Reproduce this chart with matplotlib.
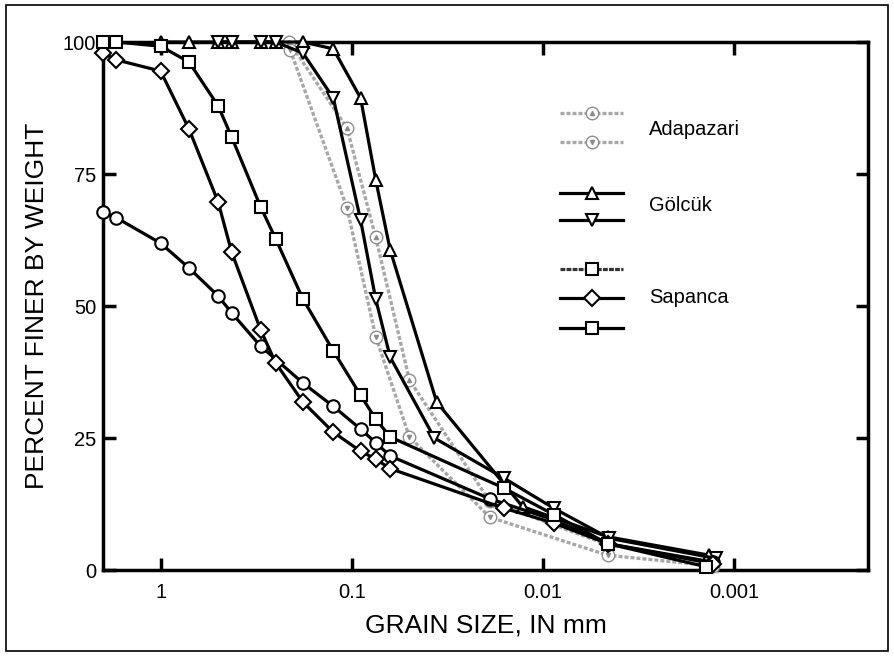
import numpy as np
import matplotlib.pyplot as plt
from matplotlib.patches import Rectangle

plt.rcParams['font.family'] = ['Liberation Sans', 'DejaVu Sans']

# Adapazari (grey circles)
ada1_x = [0.212, 0.106, 0.075, 0.05, 0.019, 0.0046, 0.0013]
ada1_y = [100, 83.7, 63.0, 36.0, 13.0, 4.8, 1.5]
ada2_x = [0.21, 0.106, 0.075, 0.05, 0.019, 0.0046, 0.0013]
ada2_y = [98.5, 68.6, 44.2, 25.2, 10.0, 2.8, 0.8]

# Golcuk (triangles)
gol1_x = [1.0, 0.71, 0.5, 0.425, 0.3, 0.25, 0.18, 0.125, 0.09, 0.075, 0.063, 0.036, 0.0128, 0.0046, 0.00135]
gol1_y = [100, 100, 100, 100, 100, 100, 100, 98.7, 89.4, 73.9, 60.6, 31.8, 12.0, 6.3, 2.8]
gol2_x = [0.5, 0.425, 0.3, 0.25, 0.18, 0.125, 0.09, 0.075, 0.063, 0.037, 0.016, 0.0088, 0.0045, 0.00125]
gol2_y = [100, 100, 100, 100, 97.9, 89.4, 66.3, 51.3, 40.3, 25.0, 17.4, 11.7, 6.0, 2.2]

# Sapanca
sap_c_x = [2.0, 1.7, 1.0, 0.71, 0.5, 0.425, 0.3, 0.18, 0.125, 0.09, 0.075, 0.063, 0.019, 0.0088, 0.0046, 0.0013]
sap_c_y = [67.8, 66.7, 61.9, 57.2, 51.9, 48.7, 42.4, 35.4, 31.0, 26.7, 24.1, 21.6, 13.5, 9.5, 5.0, 1.5]
sap_d_x = [2.0, 1.7, 1.0, 0.71, 0.5, 0.425, 0.3, 0.25, 0.18, 0.125, 0.09, 0.075, 0.063, 0.016, 0.0088, 0.0046, 0.0013]
sap_d_y = [97.9, 96.6, 94.5, 83.5, 69.7, 60.2, 45.5, 39.2, 31.8, 26.1, 22.5, 21.0, 19.2, 11.7, 8.9, 5.0, 1.2]
sap_s_x = [2.0, 1.7, 1.0, 0.71, 0.5, 0.425, 0.3, 0.25, 0.18, 0.125, 0.09, 0.075, 0.063, 0.016, 0.0088, 0.0046, 0.0014]
sap_s_y = [100, 100, 99.2, 96.2, 87.9, 82.0, 68.8, 62.7, 51.3, 41.5, 33.1, 28.6, 25.2, 15.5, 10.5, 5.0, 0.6]

xticks = [1, 0.1, 0.01, 0.001]
xticklabels = ['1', '0.1', '0.01', '0.001']
yticks = [0, 25, 50, 75, 100]

fig = plt.figure(figsize=(8.94, 6.56), dpi=100)
ax = fig.add_axes([103/894, 1-570/656, 765/894, 528/656])

grey = '#a8a8a8'
gstyle = dict(color=grey, lw=2.4, ls=(0, (1.2, 0.6)), marker='o', ms=9,
              mfc='white', mec='#8c8c8c', mew=1.0, clip_on=False, zorder=3)
blk = dict(color='black', lw=2.3, ms=9, mfc='white', mec='black', mew=1.5,
           clip_on=False, zorder=5)

ax.plot(ada1_x, ada1_y, **gstyle)
ax.plot(ada1_x, ada1_y, ls='none', marker='^', ms=3, color='#8c8c8c', clip_on=False, zorder=4)
ax.plot(ada2_x, ada2_y, **gstyle)
ax.plot(ada2_x, ada2_y, ls='none', marker='v', ms=3, color='#8c8c8c', clip_on=False, zorder=4)

ax.plot(gol1_x, gol1_y, marker='^', **blk)
ax.plot(gol2_x, gol2_y, marker='v', **blk)
ax.plot(sap_c_x, sap_c_y, marker='o', **blk)
ax.plot(sap_d_x, sap_d_y, marker='D', **{**blk, 'ms': 8})
ax.plot(sap_s_x, sap_s_y, marker='s', **{**blk, 'ms': 8})

ax.set_xscale('log')
ax.set_xlim(2.0, 0.0002)
ax.set_ylim(0, 100)
ax.set_xticks(xticks)
ax.set_xticklabels(xticklabels)
ax.minorticks_off()
ax.set_yticks(yticks)
ax.tick_params(which='both', direction='in', top=True, right=True,
               length=9, width=2.5, labelsize=14.5)
ax.tick_params(axis='x', pad=9)
ax.tick_params(axis='y', pad=5)
for s in ax.spines.values():
    s.set_linewidth(2.5)

ax.set_xlabel('GRAIN SIZE, IN mm', fontsize=19, labelpad=9)
ax.set_ylabel('PERCENT FINER BY WEIGHT', fontsize=19, labelpad=10)

# legend drawn by hand
lx = [0.597, 0.680]
mx = 0.639
tr = ax.transAxes
def key(y, marker, style, inner=None):
    ax.plot(lx, [y, y], transform=tr, clip_on=False, **{k: v for k, v in style.items() if k in ('color', 'lw', 'ls')}, zorder=6)
    ax.plot([mx], [y], transform=tr, marker=marker, ls='none', ms=style['ms'],
            mfc='white', mec=style['mec'], mew=style['mew'], clip_on=False, zorder=7)
    if inner:
        ax.plot([mx], [y], transform=tr, marker=inner, ls='none', ms=3, color='#8c8c8c', zorder=8)

key(0.866, 'o', gstyle, '^')
key(0.811, 'o', gstyle, 'v')
key(0.714, '^', blk)
key(0.663, 'v', blk)
key(0.570, 's', {**blk, 'color': '0.2', 'ls': (0, (1.5, 0.4)), 'ms': 8})
key(0.515, 'D', {**blk, 'ms': 8})
key(0.458, 's', {**blk, 'ms': 8})
ax.text(0.714, 0.835, 'Adapazari', transform=tr, fontsize=14.5, va='center')
ax.text(0.714, 0.690, 'Gölcük', transform=tr, fontsize=14.5, va='center')
ax.text(0.714, 0.517, 'Sapanca', transform=tr, fontsize=14.5, va='center')

fig.patches.append(Rectangle((0.007, 0.008), 0.986, 0.984, transform=fig.transFigure,
                             fill=False, lw=1.2, ec='black'))

fig.savefig('out.png', dpi=100)
